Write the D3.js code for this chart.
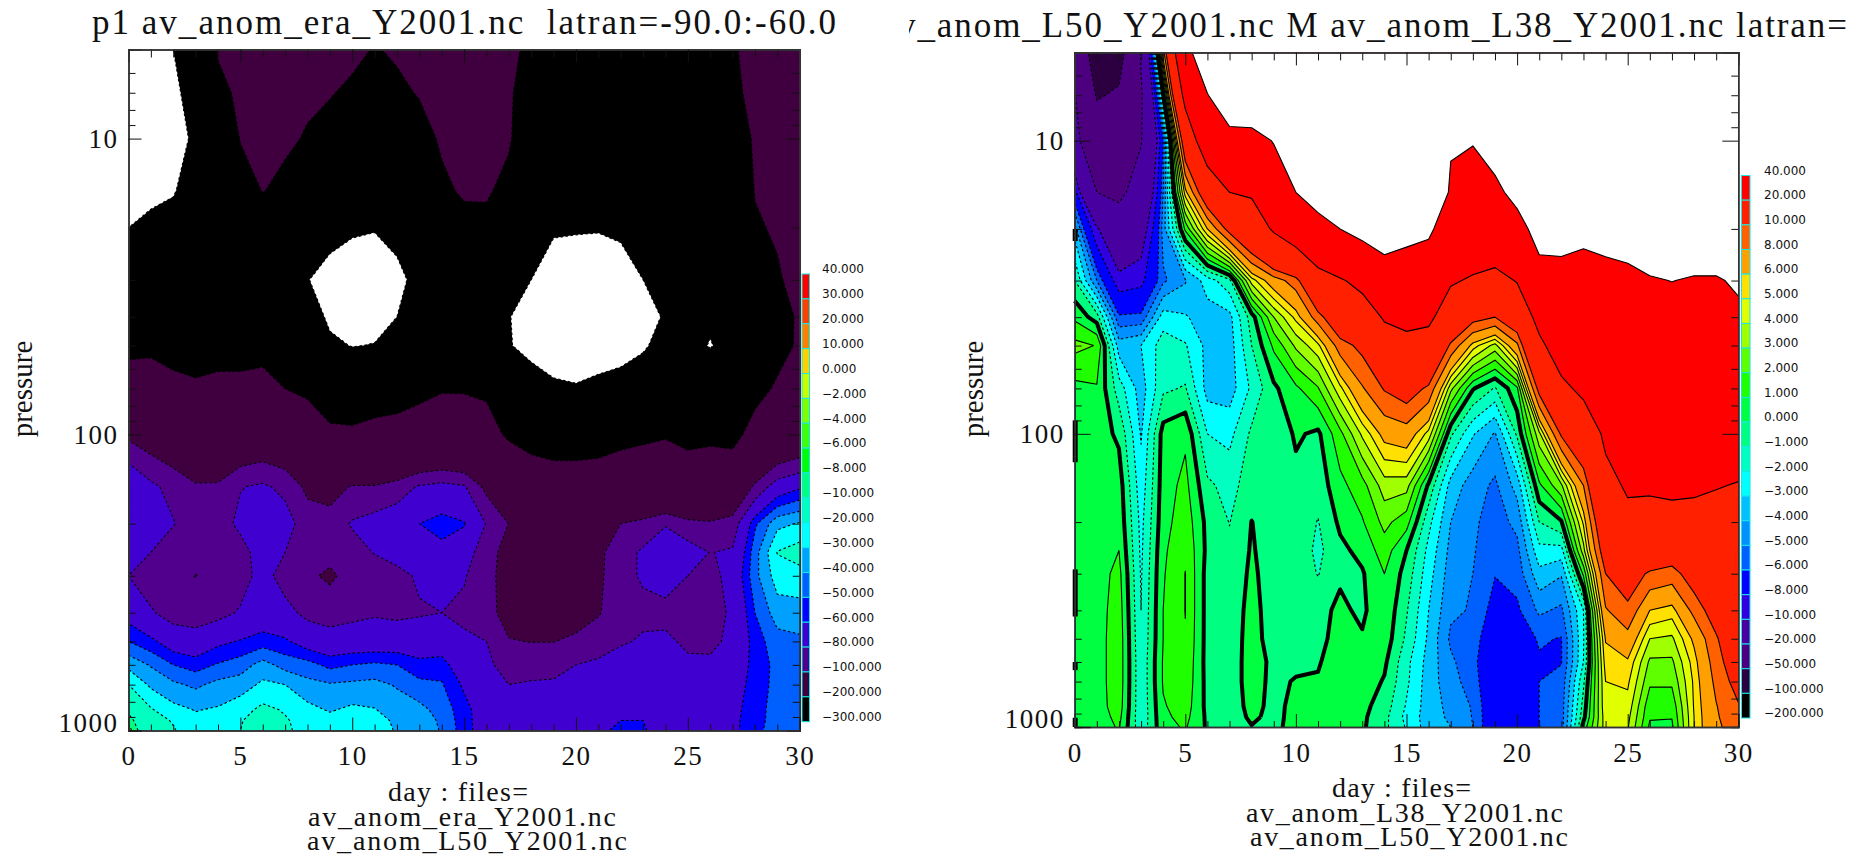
<!DOCTYPE html>
<html>
<head>
<meta charset="utf-8">
<script src="https://cdn.jsdelivr.net/npm/d3@7"></script>
<style>
  html, body { margin: 0; padding: 0; background: #fff; }
  text { fill: #111; white-space: pre; }
</style>
</head>
<body>
<div id="svg"></div>
<script>
const pressures = [5, 7, 10, 15, 20, 30, 40, 50, 70, 100, 150, 200, 250, 300, 400, 500, 600, 700, 850, 925, 1000]
const days = d3.range(0, 31)
const majorDays = [0, 5, 10, 15, 20, 25, 30]
const majorPressures = [10, 100, 1000]
const minorPressures = [6, 7, 8, 9, 20, 30, 40, 50, 60, 70, 80, 90, 200, 300, 400, 500, 600, 700, 800, 900]

// contour levels, low to high, and the colour of the band above each one
const eraLevels = [-300, -200, -100, -80, -60, -50, -40, -30, -20, -10, -8, -6, -4, -2, 0, 10, 20, 30, 40]
const eraColors = ['#000000', '#400040', '#50008c', '#4000d0', '#0000ff', '#0060ff', '#00a0ff', '#00ffff', '#00ffc0', '#00ff80', '#00ff00', '#40ff00', '#80ff00', '#c8ff00', '#ffd000', '#ff8000', '#ff4000', '#ff0000']
const modelLevels = [-200, -100, -50, -20, -10, -8, -6, -5, -4, -3, -2, -1, 0, 1, 2, 3, 4, 5, 6, 8, 10, 20, 40]
const modelColors = ['#000000', '#2c0040', '#4c0080', '#4800a0', '#3000e0', '#0000ff', '#0060ff', '#0090ff', '#00c0ff', '#00ffff', '#00ffc0', '#00ff80', '#00ff40', '#20ff00', '#60ff00', '#a0ff00', '#e0ff00', '#ffe000', '#ffa000', '#ff6000', '#ff2000', '#ff0000']

// one row per day, values top of the atmosphere (5) down to 1000
const eraField = [
  [-340,-335,-330,-315,-300,-270,-240,-215,-170,-105,-59.5,-59.5,-72,-80,-66,-50,-33,-20,-11,-8.5,-7],
  [-340,-335,-330,-310,-290,-260,-235,-210,-175,-115,-76,-73,-80,-90,-78,-57,-41,-32,-19,-15,-14],
  [-300,-305,-315,-303,-285,-255,-235,-220,-185,-125,-86,-79,-90,-95,-88,-68,-50,-38,-27,-21,-19],
  [-290,-290,-293,-280,-265,-245,-230,-215,-195,-140,-97,-90,-93,-100.5,-90,-71,-54.5,-42,-30.5,-28,-27],
  [-195,-215,-270,-270,-260,-245,-230,-215,-190,-135,-97,-90,-90,-93,-86,-63,-49,-37,-29,-27,-26],
  [-190,-190,-197,-230,-250,-245,-230,-215,-190,-130,-81,-75,-88,-88,-78,-59,-45,-35,-24,-21,-20],
  [-180,-185,-190,-198,-240,-245,-230,-215,-185,-125,-77,-67,-70,-73,-70,-55,-36,-28,-17.5,-13,-12],
  [-190,-195,-190,-215,-250,-250,-235,-220,-200,-130,-85,-72,-80,-88,-74,-58,-44,-30,-21,-19,-19],
  [-180,-190,-205,-240,-270,-299,-270,-240,-215,-150,-105,-90,-90,-96,-85,-67,-46,-37,-27,-24,-22],
  [-170,-195,-230,-270,-290,-310,-310,-290,-230,-190,-110,-91,-93,-104,-88,-72,-53,-39,-31,-27,-25],
  [-180,-215,-250,-280,-295,-320,-320,-302,-240,-190,-98,-78,-88,-92,-85,-70,-50,-38,-28,-25,-24],
  [-205,-240,-265,-280,-298,-320,-320,-298,-235,-180,-98,-72,-79,-90,-82,-70,-48,-37,-29.5,-26,-25],
  [-190,-215,-245,-275,-290,-308,-300,-280,-230,-175,-90,-68,-72,-86,-84,-69,-50,-41,-35,-32,-31],
  [-170,-195,-230,-260,-280,-290,-280,-265,-220,-160,-78,-60,-68,-77,-82,-68,-57,-47,-37,-34,-33],
  [-150,-170,-190,-215,-250,-270,-265,-250,-205,-155,-74,-55,-64,-72,-80,-69,-55,-49,-44,-42,-41],
  [-140,-155,-175,-190,-225,-250,-240,-225,-205,-160,-78,-59,-68,-78,-85,-76,-70,-62,-56,-55.5,-55],
  [-125,-145,-170,-190,-222,-245,-235,-225,-210,-175,-106,-81,-94,-95,-94,-80,-75,-70,-68,-68,-68],
  [-170,-190,-190,-225,-260,-290,-298,-295,-255,-210,-130,-100.5,-106,-107,-107,-99,-90,-80,-73,-72,-72],
  [-230,-240,-270,-285,-295,-300,-320,-325,-260,-225,-160,-130,-120,-118,-115,-100.5,-88,-78,-73,-72,-72],
  [-240,-260,-280,-290,-297,-312,-330,-330,-290,-235,-165,-135,-125,-120,-115,-100.5,-85,-78,-72,-71,-70],
  [-240,-265,-285,-292,-296,-325,-335,-335,-295,-235,-165,-135,-120,-118,-112,-95,-80,-75,-70,-67,-64],
  [-230,-260,-280,-292,-298,-318,-330,-330,-285,-225,-170,-130,-105,-105,-102,-88,-77,-74,-70,-66,-62],
  [-235,-265,-285,-290,-294,-315,-325,-320,-280,-215,-165,-100,-88,-85,-86,-82,-72,-72,-66,-60,-58],
  [-230,-260,-280,-290,-295,-300,-318,-305,-275,-212,-150,-93,-77,-78,-84,-78,-72,-72,-67,-60,-59],
  [-220,-250,-275,-285,-290,-290,-295,-285,-255,-205,-150,-81,-72,-71,-86,-76,-70,-70,-68,-66,-65],
  [-220,-250,-270,-280,-288,-290,-290,-282,-250,-215,-165,-92,-72,-80,-92,-84,-76,-70,-68,-67,-66],
  [-215,-245,-270,-280,-286,-292,-290,-303,-260,-220,-130,-98,-80.5,-87,-90,-85,-76,-72,-68,-67,-66],
  [-205,-210,-225,-250,-270,-278,-285,-280,-255,-225,-135,-90,-78,-72,-76,-75,-70,-67,-64,-63,-63],
  [-185,-188,-195,-198,-205,-245,-265,-265,-225,-170,-95,-52,-44,-43,-50,-55,-56,-55,-54,-54,-53],
  [-185,-185,-185,-190,-195,-205,-230,-225,-190,-140,-70,-33,-19.5,-25,-35,-44,-47,-47,-46,-45.5,-45],
  [-160,-165,-170,-175,-180,-185,-190,-190,-165,-130,-62,-29,-15,-24,-34,-42,-45,-43,-42,-41,-41]
]

const modelField = [
  [-19,-19,-15,-7,-3.5,-1,0.8,2.3,0.7,0.4,0.3,0.3,0.3,0.3,0.3,0.3,0.3,0.3,0.3,0.3,0.3],
  [-70,-52,-35,-20,-9.5,-5,-0.5,1.95,0.9,0.5,0.5,0.5,0.5,0.55,0.55,0.55,0.55,0.55,0.55,0.5,0.5],
  [-60,-47,-32,-22,-15,-9,-5.8,-3.5,-1.5,-0.2,0.5,0.7,1,1.3,1.5,1.6,1.6,1.6,1.5,1.3,1.1],
  [-19,-21,-20.5,-16,-12,-8.5,-5.7,-3,-3.5,-3.1,-2.6,-2.3,-2.2,-2.1,-2,-1.9,-1.8,-1.8,-1.8,-1.8,-1.7],
  [7,0,-6,-5,-4.5,-5.2,-2.5,-1.5,-1.2,0.4,0.5,0.6,0.8,0.9,1,1,1.1,1.1,0.9,0.8,0.7],
  [31,23,13,5.5,1.2,-4.1,-2.9,-1.9,-0.9,0.8,1.3,1.6,1.85,2.02,2.02,1.95,1.8,1.7,1.5,1.3,1.1],
  [60,39,27,13,6,-2.5,-3.5,-3.3,-3.4,-2,-0.8,-0.3,-0.25,-0.4,-0.4,-0.4,-0.4,-0.35,-0.3,-0.2,-0.15],
  [80,60,31,20,11,-1.3,-3.3,-3.5,-3.5,-2.3,-1.35,-1.03,-0.8,-0.7,-0.6,-0.6,-0.6,-0.6,-0.6,-0.6,-0.6],
  [100,60,32,21,15,4.5,-0.5,-1,-1.8,-0.8,-0.5,0.02,0.1,0.2,0.35,0.45,0.5,0.5,0.35,0.2,-0.05],
  [100,70,41,27,21,7,3,1.2,-0.2,-0.8,-0.6,-0.5,-0.5,-0.5,-0.5,-0.5,-0.25,-0.3,-0.3,-0.3,-0.2],
  [100,80,55,40,26,9,5.3,3.2,0.8,0.15,-0.3,-0.3,-0.3,-0.4,-0.4,-0.4,-0.3,0.1,0.3,0.35,0.3],
  [100,90,70,50,32,16,9,4.7,1.9,-0.2,-0.6,-1.05,-1.25,-1.05,-0.3,-0.3,-0.1,0.1,0.35,0.4,0.4],
  [100,90,75,55,40,19,13,9,4.7,1.7,0.7,0.2,-0.25,-0.15,0.2,0.4,0.6,0.7,0.7,0.7,0.7],
  [100,95,80,60,45,23,14.5,10.7,7.8,4.2,1.6,0.9,0.3,-0.1,-0.2,0.1,0.4,0.6,0.3,0.2,0.15],
  [100,95,85,65,48,32,21,15,10.2,6.5,3.5,2.3,1.5,1,0.8,0.6,0.2,-0.1,-0.5,-0.7,-0.75],
  [100,95,85,60,46,29,22,18,11.5,7,3.4,1.4,0,-0.4,-0.9,-1.2,-1.7,-1.8,-2.1,-2.3,-2.1],
  [100,95,85,65,43,28,22,16,9.5,4.6,-0.2,-1.7,-2.3,-2.6,-3,-3.2,-3.4,-3.5,-3.5,-3.5,-3.5],
  [100,75,42,37,30,21,14.5,9.5,3.3,-0.8,-3.4,-4,-4.3,-4.5,-4.8,-5.2,-4.8,-4.6,-4.3,-4.2,-4],
  [100,55,40.8,33,28,19,11,5.5,0.1,-2.9,-4.5,-4.8,-4.9,-5,-5.1,-5.5,-5.7,-5.5,-5.1,-5.05,-5],
  [100,70,46,37,29,17,10,3.6,-1.1,-4.1,-5.2,-5.5,-5.7,-5.95,-6.5,-7,-7.2,-7.3,-7.3,-7.3,-7.3],
  [100,80,60,44,35,20.5,13,7.5,0.8,-0.8,-3.6,-4.7,-5.3,-5.6,-6.2,-6.6,-6.9,-7,-7,-7,-7],
  [100,85,70,55,45,35,23,18,11,3.7,0.8,-1,-2.3,-3.3,-4.8,-5.9,-6.1,-6,-6,-6,-6],
  [100,90,75,60,48,33,28,25,18,10.4,2.8,-0.1,-2.4,-3.9,-5.2,-6.05,-6.05,-5.7,-5.5,-5.5,-5.5],
  [100,90,75,60,45,32,28,25,22,14,8,5.2,3.6,1.2,-2,-2.1,-2,-1.2,-0.6,-0.3,0.4],
  [100,90,75,60,47,34,30,27,24,21.6,17.5,14,12,10,7.8,6.1,5.5,5,4.8,4.6,4.5],
  [100,95,80,65,50,35,30,27,25,23,21,18,14,11.5,9.5,7.3,5.8,5.2,4.6,4.3,4.1],
  [100,95,85,70,60,38,30,28,26,24,21,17.5,13,9.6,6,4,2.8,2.2,1.3,1.1,0.8],
  [100,95,85,70,60,40.4,31,28,26,24,21,18.5,12,9,5.5,3.8,2.8,2.2,1.3,1.05,0.8],
  [100,95,85,70,60,38,30,28,26,24,21,18,13,11.5,8.6,6.3,5.5,5.2,5.1,5,5],
  [100,95,85,70,60,38,30,28,26,24,20.4,17,14.5,13,11.5,9.7,9,8.5,7.9,7.8,7.7],
  [100,95,85,70,60,43,36,33,30,25,19.6,18,16.5,15.5,14,13,12,11,9.8,9.2,8.8]
]

// stretches of day 0 where the zero line runs along the axis [from, to] in pressure
const axisZeroRuns = [[20, 22], [90, 125], [290, 420], [600, 640], [930, 1000]]

const serif = '"Liberation Serif", serif'
const svg = d3.select('#svg').append('svg')
  .attr('width', 1868)
  .attr('height', 856)
  .style('display', 'block')

svg.append('defs').append('clipPath').attr('id', 'titleClip')
  .append('rect').attr('x', 909).attr('y', 0).attr('width', 940).attr('height', 50)

function drawPanel(opt) {
  const xscale = d3.scaleLinear().domain([0, 30]).range([opt.left, opt.right])
  const yscale = d3.scaleLog().domain([5, 1000]).range([opt.top, opt.bottom])

  const rowY = pressures.map(p => yscale(p))
  // d3.contours puts value i at i + 0.5, and the outer edge half a cell out
  const px = v => xscale(Math.max(0, Math.min(30, v - 0.5)))
  const py = v => {
    const r = Math.max(0, Math.min(20, v - 0.5))
    const j = Math.min(19, Math.floor(r))
    return rowY[j] + (rowY[j + 1] - rowY[j]) * (r - j)
  }

  const flat = []
  for (let j = 0; j < pressures.length; j++) {
    for (let i = 0; i < days.length; i++) flat.push(opt.field[i][j])
  }
  const contours = d3.contours()
    .size([days.length, pressures.length])
    .thresholds(opt.levels)(flat)

  const plot = svg.append('g')

  // filled bands, low to high; above the last level and below the first stays white
  contours.forEach((c, k) => {
    const d = c.coordinates.map(poly => poly.map(ring =>
      'M' + ring.map(p => px(p[0]).toFixed(2) + ',' + py(p[1]).toFixed(2)).join('L') + 'Z').join('')).join('')
    plot.append('path')
      .attr('d', d)
      .attr('fill', k < opt.colors.length ? opt.colors[k] : '#ffffff')
      .attr('fill-rule', 'evenodd')
  })

  // lines, leaving out the pieces that only run along the frame
  contours.forEach(c => {
    let d = ''
    c.coordinates.forEach(poly => poly.forEach(ring => {
      let pen = false
      for (let n = 1; n < ring.length; n++) {
        const a = [Math.max(0, Math.min(30, ring[n - 1][0] - 0.5)), Math.max(0, Math.min(20, ring[n - 1][1] - 0.5))]
        const b = [Math.max(0, Math.min(30, ring[n][0] - 0.5)), Math.max(0, Math.min(20, ring[n][1] - 0.5))]
        const onEdge = (a[0] === b[0] && (a[0] === 0 || a[0] === 30)) || (a[1] === b[1] && (a[1] === 0 || a[1] === 20))
        if (onEdge) { pen = false; continue }
        if (!pen) d += 'M' + px(ring[n - 1][0]).toFixed(2) + ',' + py(ring[n - 1][1]).toFixed(2)
        d += 'L' + px(ring[n][0]).toFixed(2) + ',' + py(ring[n][1]).toFixed(2)
        pen = true
      }
    }))
    const isZero = c.value === 0
    plot.append('path')
      .attr('d', d)
      .attr('fill', 'none')
      .attr('stroke', '#000')
      .attr('stroke-linejoin', 'round')
      .attr('stroke-width', isZero ? 4 : 1.1)
      .attr('stroke-dasharray', c.value < 0 ? '2.5 2.5' : null)
  })

  if (opt.zeroRuns) {
    plot.selectAll('rect.zero').data(opt.zeroRuns).enter().append('rect')
      .attr('class', 'zero')
      .attr('x', opt.left - 2)
      .attr('width', 5)
      .attr('y', d => yscale(d[0]))
      .attr('height', d => yscale(d[1]) - yscale(d[0]))
  }

  // IDL style frame: ticks pointing inwards on all four sides
  const minorDays = days.filter(d => d % 5 !== 0)
  const bottomMajor = d3.axisBottom(xscale).tickValues(majorDays).tickSize(-13).tickPadding(17).tickFormat(d3.format('d'))
  const bottomMinor = d3.axisBottom(xscale).tickValues(minorDays).tickSize(-6).tickFormat('')
  const topMajor = d3.axisTop(xscale).tickValues(majorDays).tickSize(-13).tickFormat('')
  const topMinor = d3.axisTop(xscale).tickValues(minorDays).tickSize(-8).tickFormat('')
  const leftMajor = d3.axisLeft(yscale).tickValues(majorPressures).tickSize(-opt.yMajor).tickPadding(10).tickFormat(d3.format('d'))
  const leftMinor = d3.axisLeft(yscale).tickValues(minorPressures).tickSize(-7).tickFormat('')
  const rightMajor = d3.axisRight(yscale).tickValues(majorPressures).tickSize(-opt.yMajor).tickFormat('')
  const rightMinor = d3.axisRight(yscale).tickValues(minorPressures).tickSize(-7).tickFormat('')

  const place = (axis, x, y) => {
    const g = svg.append('g').attr('transform', `translate(${x},${y})`).call(axis)
    g.select('.domain').attr('stroke', '#333').attr('stroke-width', 1.5)
    g.selectAll('.tick line').attr('stroke', '#111')
    g.selectAll('text').attr('font-family', serif).attr('font-size', 27).style('letter-spacing', '1.5px')
    return g
  }
  place(bottomMinor, 0, opt.bottom)
  place(topMinor, 0, opt.top)
  place(topMajor, 0, opt.top)
  place(leftMinor, opt.left, 0)
  place(rightMinor, opt.right, 0)
  place(rightMajor, opt.right, 0)
  place(bottomMajor, 0, opt.bottom)
    .selectAll('text').attr('dy', '0.66em')
  place(leftMajor, opt.left, 0)
    .selectAll('.tick').filter(d => d === 1000).select('text').attr('dy', '0.02em')

  // colour bar
  const nBands = opt.colors.length
  const barScale = d3.scaleLinear().domain([0, nBands]).range([opt.barTop, opt.barBottom])
  const bar = svg.append('g')
  bar.selectAll('rect').data(opt.colors.slice().reverse()).enter().append('rect')
    .attr('x', opt.barX)
    .attr('width', opt.barW)
    .attr('y', (d, i) => barScale(i))
    .attr('height', barScale(1) - barScale(0))
    .attr('fill', d => d)
    .attr('stroke', '#19e6e6')
    .attr('stroke-width', 1)
  const labelFmt = d3.format('.3f')
  bar.selectAll('text').data(opt.levels.slice().reverse()).enter().append('text')
    .attr('x', opt.barLabelX)
    .attr('y', (d, i) => barScale(i) - 5)
    .attr('dy', '0.36em')
    .attr('font-family', '"DejaVu Sans", sans-serif')
    .attr('font-size', 12)
    .attr('fill', '#222')
    .text(d => labelFmt(d))

  svg.append('text')
    .attr('transform', `translate(${opt.pressureX},389) rotate(-90)`)
    .attr('text-anchor', 'middle')
    .attr('dy', '0.32em')
    .attr('font-family', serif)
    .attr('font-size', 29)
    .text('pressure')

  opt.texts.forEach(t => {
    const el = svg.append('text')
      .attr('x', t.x)
      .attr('y', t.y)
      .attr('dy', '0.32em')
      .attr('font-family', serif)
      .attr('font-size', t.size)
      .attr('textLength', t.width)
      .attr('lengthAdjust', 'spacing')
      .text(t.text)
    if (t.clip) el.attr('clip-path', 'url(#titleClip)')
  })
}

drawPanel({
  field: eraField, levels: eraLevels, colors: eraColors,
  left: 128.5, right: 799.7, top: 49.5, bottom: 730.5, yMajor: 13,
  barX: 802, barW: 7.5, barTop: 274, barBottom: 721.7, barLabelX: 822,
  pressureX: 23,
  texts: [
    {text: 'p1 av_anom_era_Y2001.nc  latran=-90.0:-60.0', x: 92, y: 23, size: 35, width: 744},
    {text: 'day : files=', x: 388, y: 792, size: 28, width: 140},
    {text: 'av_anom_era_Y2001.nc', x: 308, y: 817, size: 28, width: 308},
    {text: 'av_anom_L50_Y2001.nc', x: 307, y: 841, size: 28, width: 320}
  ]
})

drawPanel({
  field: modelField, levels: modelLevels, colors: modelColors, zeroRuns: axisZeroRuns,
  left: 1074.7, right: 1738.3, top: 52.4, bottom: 727, yMajor: 16,
  barX: 1741.5, barW: 8.5, barTop: 175.5, barBottom: 718, barLabelX: 1764,
  pressureX: 974,
  texts: [
    {text: 'v_anom_L50_Y2001.nc M av_anom_L38_Y2001.nc latran=', x: 898, y: 26, size: 35, width: 949, clip: true},
    {text: 'day : files=', x: 1332, y: 788, size: 28, width: 139},
    {text: 'av_anom_L38_Y2001.nc', x: 1246, y: 813, size: 28, width: 317},
    {text: 'av_anom_L50_Y2001.nc', x: 1250, y: 837, size: 28, width: 318}
  ]
})
</script>
</body>
</html>
